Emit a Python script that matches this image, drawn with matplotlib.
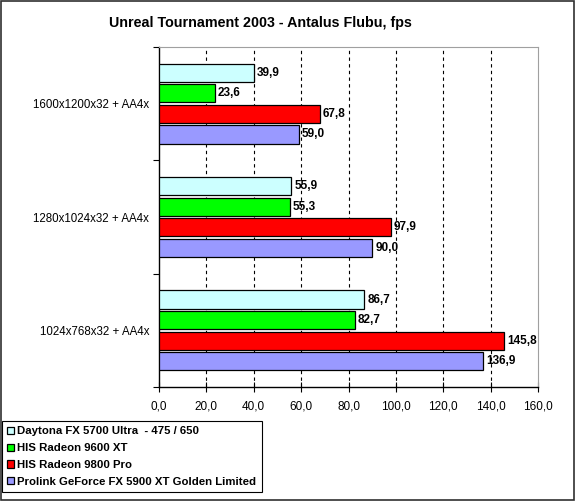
import numpy as np
import matplotlib.pyplot as plt
from matplotlib.patches import Rectangle

plt.rcParams['font.family'] = ['Liberation Sans', 'DejaVu Sans']

categories = ['1024x768x32 + AA4x', '1280x1024x32 + AA4x', '1600x1200x32 + AA4x']
series = ['Daytona FX 5700 Ultra  - 475 / 650', 'HIS Radeon 9600 XT',
          'HIS Radeon 9800 Pro', 'Prolink GeForce FX 5900 XT Golden Limited']
values = [
    [86.7, 55.9, 39.9],
    [82.7, 55.3, 23.6],
    [145.8, 97.9, 67.8],
    [136.9, 90.0, 59.0],
]
colors = ['#CCFFFF', '#00FF00', '#FF0000', '#9999FF']

fig = plt.figure(figsize=(5.75, 5.01), dpi=100)
ax = fig.add_axes([159 / 575, 1 - 387 / 501, 379 / 575, 340 / 501])

ind = np.arange(len(categories))
step = 0.181
height = 0.16
offsets = [1.5 * step, 0.5 * step, -0.5 * step, -1.5 * step]

handles = []
for vals, col, off in zip(values, colors, offsets):
    bars = ax.barh(ind + off, vals, height, color=col, edgecolor='black', linewidth=0.9, zorder=3)
    handles.append(bars[0])
    for b, v in zip(bars, vals):
        ax.text(v + 1.3, b.get_y() + b.get_height() / 2, ('%.1f' % v).replace('.', ','),
                ha='left', va='center', fontsize=8.5, fontweight='bold', zorder=4)

ax.set_xlim(0, 160)
ax.set_ylim(-0.5, 2.5)
xt = np.arange(0, 161, 20)
ax.set_xticks(xt)
ax.set_xticklabels([('%.1f' % t).replace('.', ',') for t in xt], fontsize=8.5)
ax.tick_params(axis='x', direction='inout', length=7, width=0.8, pad=6)
for t in xt[1:-1]:
    ax.axvline(t, color='black', linestyle=(0, (3, 3)), linewidth=0.8, zorder=1)

ax.set_yticks([-0.5, 0.5, 1.5, 2.5])
ax.set_yticklabels([])
ax.set_yticks(ind, minor=True)
ax.set_yticklabels(categories, minor=True, fontsize=8.3)
ax.tick_params(axis='y', which='minor', length=0, pad=7)
ax.tick_params(axis='y', which='major', direction='out', length=4, width=0.8)

ax.spines['top'].set_color('#A0A0A0')
ax.spines['right'].set_color('#A0A0A0')
ax.spines['left'].set_linewidth(1.0)
ax.spines['bottom'].set_linewidth(1.0)

fig.text(260 / 575, 1 - 23 / 501, 'Unreal Tournament 2003 - Antalus Flubu, fps',
         ha='center', va='center', fontsize=10.3, fontweight='bold')

leg = fig.legend(handles, series, loc='lower left',
                 bbox_to_anchor=(2 / 575, 1 - 492 / 501), fancybox=False,
                 framealpha=1, edgecolor='black', handlelength=0.6, handleheight=0.6,
                 handletextpad=0.3, borderpad=0.45, labelspacing=0.6, borderaxespad=0,
                 prop={'weight': 'bold', 'size': 8.2})
leg.get_frame().set_linewidth(0.8)

fig.patches.append(Rectangle((0.001, 0.001), 0.997, 0.997, transform=fig.transFigure,
                             fill=False, edgecolor='#303030', linewidth=1.2))

fig.savefig('out.png', dpi=100)
